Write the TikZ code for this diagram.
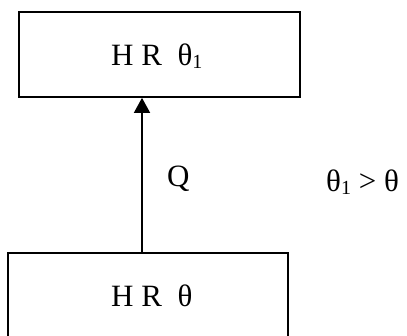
\documentclass[tikz,border=0pt]{standalone}
\usepackage{fontspec}
\setmainfont{Liberation Serif}
\usetikzlibrary{arrows.meta}
\tikzset{
  box/.style={draw=black, line width=1.7pt, inner sep=0pt},
  lbl/.style={inner sep=0pt, font=\fontsize{31}{36}\selectfont},
  arr/.style={line width=1.6pt, -{Triangle[width=16pt,length=15pt]}},
}
\newcommand{\subone}{\raisebox{-3pt}{\fontsize{20}{20}\selectfont 1}}
\begin{document}
\begin{tikzpicture}[x=1pt,y=1pt]
\useasboundingbox (0,0) rectangle (407,336);
\clip (0,0) rectangle (407,336);
\fill[white] (0,0) rectangle (407,336);
\node[box, minimum width=281pt, minimum height=85pt] (top) at (159.5,281.5) {};
\node[box, minimum width=280pt, minimum height=110pt] (bot) at (148,28) {};
\coordinate (ax) at (142,0);
\draw[arr] (bot.north -| ax) -- (top.south -| ax);
\node[lbl, anchor=base west] (ttext) at (111,270) {H R\hspace{0.5em}θ\subone};
\node[lbl, anchor=base west] (btext) at (111,29) {H R\hspace{0.5em}θ};
\node[lbl, anchor=base west] (q) at (167,149) {Q};
\node[lbl, anchor=base west] (cond) at (326,144) {θ\subone{} > θ};
\end{tikzpicture}
\end{document}
